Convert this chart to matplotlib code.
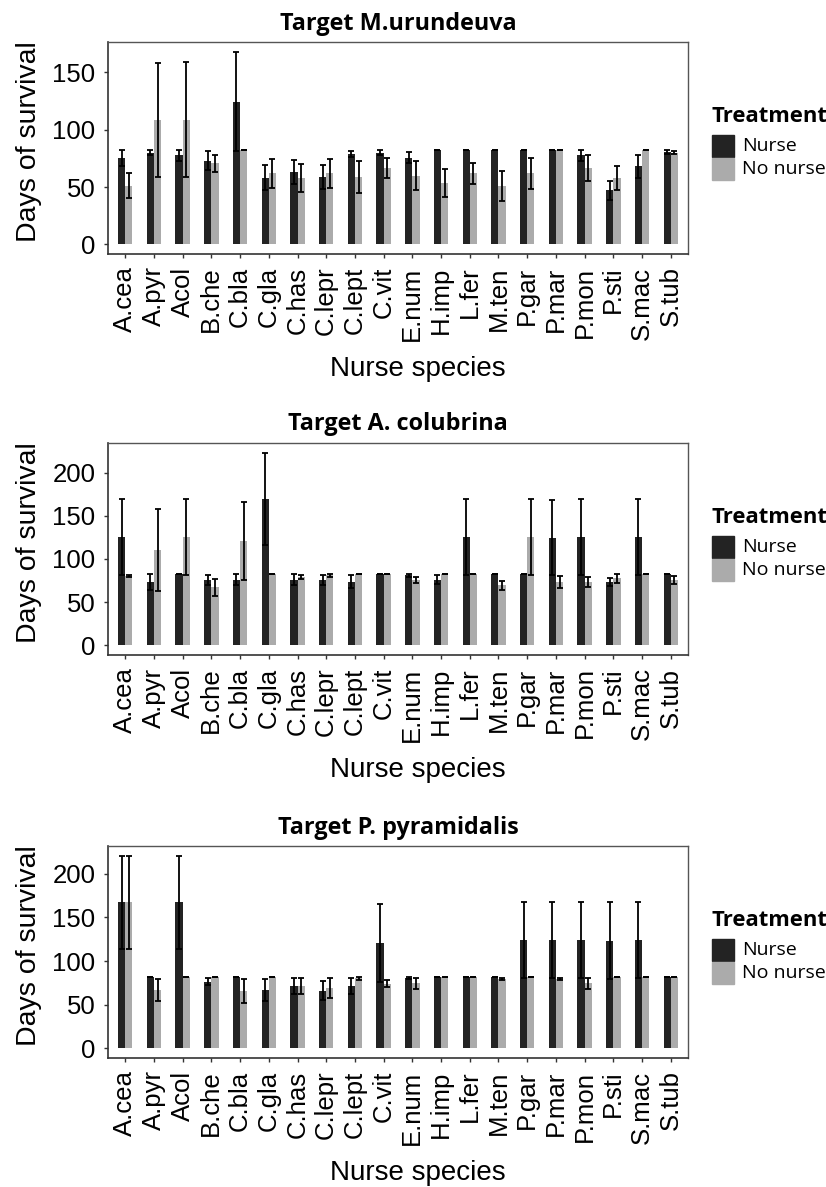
import numpy as np
import matplotlib
matplotlib.use("Agg")
import matplotlib.pyplot as plt
from matplotlib.patches import Rectangle

# ------------------------------------------------------------------
#  Data: mean days of survival and error (+/-)
# ------------------------------------------------------------------
species = ["A.cea", "A.pyr", "Acol", "B.che", "C.bla", "C.gla", "C.has",
           "C.lepr", "C.lept", "C.vit", "E.num", "H.imp", "L.fer", "M.ten",
           "P.gar", "P.mar", "P.mon", "P.sti", "S.mac", "S.tub"]

# Target M.urundeuva
mu_nurse = [75, 80, 77.5, 73, 124.5, 58, 63, 58.5, 79, 80,
            75.5, 82, 82, 82, 82, 82, 77.5, 47, 68, 80.5]
mu_nurse_err = [7, 2, 4.5, 8, 43.5, 11, 10.5, 10.5, 2.5, 2,
                5, 0, 0, 0, 0, 0, 4.5, 8.5, 10, 1.5]
mu_none = [51, 108.5, 108.8, 70.5, 82, 62, 58, 62, 59, 66.5,
           60, 53.5, 62, 51, 62, 82, 66.5, 58, 82, 80]
mu_none_err = [11, 50, 50, 7.5, 0, 12.5, 12, 12.5, 14, 8.5,
               12.5, 12, 9, 13, 13.5, 0, 11.5, 10.5, 0, 1]

# Target A. colubrina
ac_nurse = [125.5, 73.5, 82.7, 75.4, 76, 169.6, 76.2, 75.4, 73.5, 82.7,
            81, 76.2, 125.4, 82.7, 82.7, 124.5, 125.4, 73.5, 125.4, 82.7]
ac_nurse_err = [43.5, 9.5, 0, 6, 6.5, 53.5, 6, 6, 7.5, 0,
                1.5, 5, 43.5, 0, 0, 43.5, 43.5, 5, 43.5, 0]
ac_none = [80.5, 110.8, 125.4, 67, 120.4, 82.7, 79, 81, 82.7, 82.7,
           76, 82.7, 82.7, 69.5, 125.4, 73.5, 73, 77.5, 82.7, 76]
ac_none_err = [1.5, 47.5, 43.5, 9.5, 45, 0, 2, 1.5, 0, 0,
               3.5, 0, 0, 5, 43.5, 7, 6, 4.8, 0, 4.5]

# Target P. pyramidalis
pp_nurse = [167.4, 82, 167.4, 76.6, 82, 67, 71.6, 65.9, 71.6, 121,
            81, 82, 82, 82, 124.5, 124.5, 124.5, 123.4, 124.5, 82]
pp_nurse_err = [53.5, 0, 53.5, 4, 0, 12.5, 9.5, 11, 9.5, 44.5,
                1, 0, 0, 0, 43.5, 43.5, 43.5, 44, 43.5, 0]
pp_none = [167.4, 67, 82, 82, 66, 82, 71.6, 69.7, 80.3, 74,
           74.5, 82, 82, 79.3, 82, 79.3, 74.5, 82, 82, 82]
pp_none_err = [53.5, 12.5, 0, 0, 14, 0, 9.5, 11.5, 2, 4,
               6.5, 0, 0, 1.5, 0, 1.5, 6.5, 0, 0, 0]

titles = ["Target M.urundeuva", "Target A. colubrina", "Target P. pyramidalis"]
treatments = ["Nurse", "No nurse"]

panels = [
    (mu_nurse, mu_nurse_err, mu_none, mu_none_err),
    (ac_nurse, ac_nurse_err, ac_none, ac_none_err),
    (pp_nurse, pp_nurse_err, pp_none, pp_none_err),
]

# ------------------------------------------------------------------
#  Layout (pixels of the 826 x 1187 output)
# ------------------------------------------------------------------
W, H = 826, 1187
col_nurse = "#232323"
col_none = "#ababab"
axis_font = "Liberation Sans"
title_font = ["Open Sans", "Noto Sans", "DejaVu Sans"]

fig = plt.figure(figsize=(W / 100, H / 100), dpi=100)


def fx(px):
    return px / W


def fy(py):
    return 1 - py / H


ax_left, ax_right = 108, 688
ax_tops = [42, 443, 846]
ax_h = 212

x = np.arange(len(species))
bw = 0.25

for i, (nurse, nurse_err, none, none_err) in enumerate(panels):
    top = ax_tops[i]
    ax = fig.add_axes([fx(ax_left), fy(top + ax_h), fx(ax_right - ax_left), ax_h / H])

    ax.bar(x - bw / 2, nurse, width=bw, color=col_nurse, zorder=2)
    ax.bar(x + bw / 2, none, width=bw, color=col_none, zorder=2)
    ax.errorbar(x - bw / 2, nurse, yerr=nurse_err, fmt="none", ecolor="black",
                elinewidth=1.3, capsize=2.4, capthick=1.3, zorder=3)
    ax.errorbar(x + bw / 2, none, yerr=none_err, fmt="none", ecolor="black",
                elinewidth=1.3, capsize=2.4, capthick=1.3, zorder=3)

    # ggplot-like expansion of the y range
    ymax = max(np.max(np.array(nurse) + np.array(nurse_err)),
               np.max(np.array(none) + np.array(none_err)))
    ax.set_ylim(-0.05 * ymax, ymax * 1.05)
    ax.set_xlim(-0.6, len(species) - 0.4)
    ax.set_yticks([0, 50, 100, 150] if i == 0 else [0, 50, 100, 150, 200])

    ax.set_xticks(x)
    ax.set_xticklabels(species, rotation=90, va="top", ha="center")
    ax.tick_params(axis="both", length=3, width=1, color="#333333", pad=6,
                   labelsize=18.5)
    for lab in ax.get_xticklabels() + ax.get_yticklabels():
        lab.set_fontfamily(axis_font)

    for side in ["left", "bottom"]:
        ax.spines[side].set_color("#333333")
        ax.spines[side].set_linewidth(1.2)
    for side in ["top", "right"]:
        ax.spines[side].set_color("#555555")
        ax.spines[side].set_linewidth(1.0)

    ax.set_ylabel("Days of survival", fontsize=20.5, family=axis_font)
    ax.yaxis.set_label_coords(-0.114, 0.53)
    ax.set_xlabel("Nurse species", fontsize=20, family=axis_font, labelpad=11)
    ax.xaxis.label.set_x(0.534)
    ax.set_title(titles[i], fontsize=16.8, family=title_font, fontweight="bold", pad=9)

    # --- legend (drawn by hand, ggplot style) ---
    key_top = top + 93
    fig.text(fx(712), fy(key_top - 18), "Treatment", fontsize=15.8,
             family=title_font, fontweight="bold", ha="left", va="center")
    for j, (lab, col) in enumerate(zip(treatments, [col_nurse, col_none])):
        y0 = key_top + j * 23
        fig.add_artist(Rectangle((fx(712), fy(y0 + 22)), 22 / W, 22 / H,
                                 transform=fig.transFigure, color=col))
        fig.text(fx(742), fy(y0 + 11), lab, fontsize=14, family=title_font,
                 ha="left", va="center")

fig.savefig("out.png", dpi=100)
